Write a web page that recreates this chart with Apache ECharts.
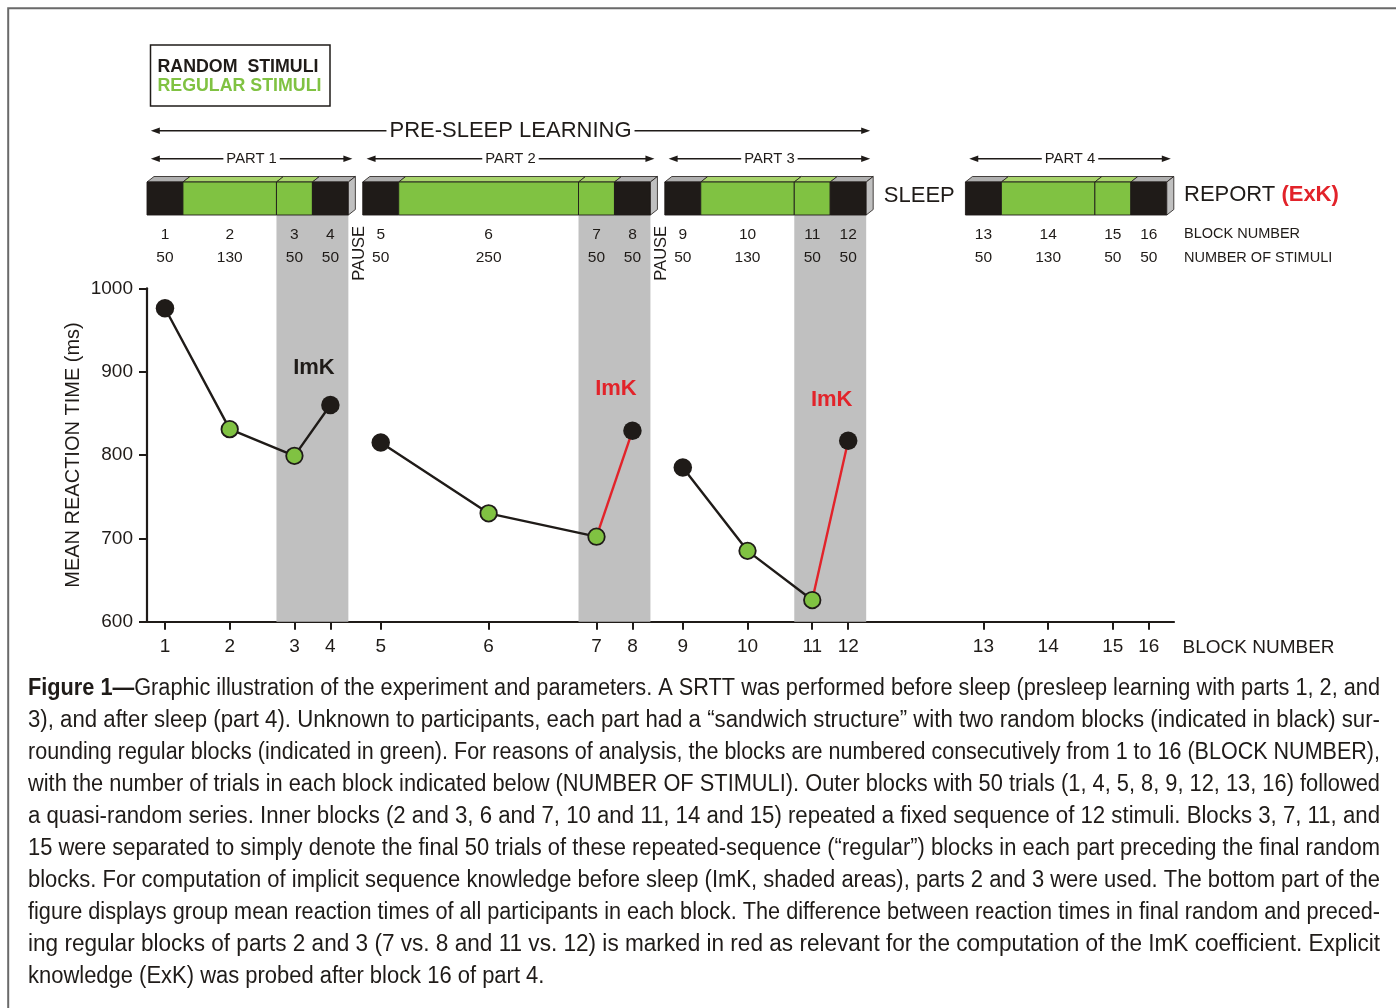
<!DOCTYPE html>
<html>
<head>
<meta charset="utf-8">
<title>Figure 1</title>
<script src="https://cdn.jsdelivr.net/npm/echarts@6/dist/echarts.min.js"></script>
<style>
html,body{margin:0;padding:0;background:#ffffff;}
#chart{width:1396px;height:1008px;}
</style>
</head>
<body>
<div id="chart"></div>
<script>
// ---------------- data ----------------
const blockNumbers = [1,2,3,4,5,6,7,8,9,10,11,12,13,14,15,16];
const stimuliPerBlock = [50,130,50,50, 50,250,50,50, 50,130,50,50, 50,130,50,50];
const blockKind = ['random','regular','regular','random','random','regular','regular','random',
                   'random','regular','regular','random','random','regular','regular','random'];
const partLabels = ['PART 1','PART 2','PART 3','PART 4'];
const partBlockCount = [4,4,4,4];
const gapBeforePart = [0,20,20,138];          // in stimulus units (pause, pause, sleep)
const gapLabels = ['PAUSE','PAUSE','SLEEP'];
const meanRT = [976,831,799,860, 815,730,702,829, 785,685,626,817];   // blocks 1..12 (ms)
const yTickValues = [600,700,800,900,1000];
const imkPairs = [[3,4],[7,8],[11,12]];
const imkUsedForCoefficient = [false,true,true];
const imkLabelRT = [905,879,866];
const legendLabels = ['RANDOM  STIMULI','REGULAR STIMULI'];
const captionBold = 'Figure 1—';
const captionLines = [
  'Graphic illustration of the experiment and parameters. A SRTT was performed before sleep (presleep learning with parts 1, 2, and',
  '3), and after sleep (part 4). Unknown to participants, each part had a “sandwich structure” with two random blocks (indicated in black) sur-',
  'rounding regular blocks (indicated in green). For reasons of analysis, the blocks are numbered consecutively from 1 to 16 (BLOCK NUMBER),',
  'with the number of trials in each block indicated below (NUMBER OF STIMULI). Outer blocks with 50 trials (1, 4, 5, 8, 9, 12, 13, 16) followed',
  'a quasi-random series. Inner blocks (2 and 3, 6 and 7, 10 and 11, 14 and 15) repeated a fixed sequence of 12 stimuli. Blocks 3, 7, 11, and',
  '15 were separated to simply denote the final 50 trials of these repeated-sequence (“regular”) blocks in each part preceding the final random',
  'blocks. For computation of implicit sequence knowledge before sleep (ImK, shaded areas), parts 2 and 3 were used. The bottom part of the',
  'figure displays group mean reaction times of all participants in each block. The difference between reaction times in final random and preced-',
  'ing regular blocks of parts 2 and 3 (7 vs. 8 and 11 vs. 12) is marked in red as relevant for the computation of the ImK coefficient. Explicit',
  'knowledge (ExK) was probed after block 16 of part 4.'
];

// ---------------- styles / layout ----------------
const FONT = "'Liberation Sans', Arial, Helvetica, sans-serif";
const INK = '#1f1b18';
const GREEN = '#80c242';
const GREEN_TOP = '#a8d46c';
const GRAY_TOP = '#b0b0b0';
const SIDE = '#c0c0c0';
const SHADE = '#c0c0c0';
const RED = '#e2232a';

const Y_PRESLEEP = 130.7, Y_PART = 158.8;
const Y_FRONT_TOP = 182, Y_FRONT_BOT = 215, DX = 7, DY = 5.5;
const Y_ROW_NUM = 234.3, Y_ROW_STIM = 257.5;

// ---------------- derived layout in stimulus units ----------------
const blocks = [];
const parts = [];
(function(){
  let cursor = 0, bi = 0;
  partBlockCount.forEach((n, p) => {
    cursor += gapBeforePart[p];
    const pStart = cursor;
    for (let k = 0; k < n; k++, bi++) {
      const s = cursor, e = cursor + stimuliPerBlock[bi];
      blocks.push({no: blockNumbers[bi], start: s, end: e, center: (s + e) / 2,
        kind: blockKind[bi], part: p, first: k === 0, last: k === n - 1, stim: stimuliPerBlock[bi]});
      cursor = e;
    }
    parts.push({start: pStart, end: cursor, label: partLabels[p]});
  });
})();
const X_MAX = parts[parts.length - 1].end + 10;
const blockByNo = {}; blocks.forEach(b => blockByNo[b.no] = b);
const rtByBlock = {}; meanRT.forEach((v, i) => rtByBlock[blockNumbers[i]] = v);
const centerToNo = {}; blocks.forEach(b => centerToNo[b.center] = b.no);
const redPairs = imkPairs.filter((p, i) => imkUsedForCoefficient[i]);
const isRed = (a, b) => redPairs.some(p => p[0] === a && p[1] === b);
const sleepIdx = gapLabels.indexOf('SLEEP');

// line chains
const chains = [];
parts.forEach((p, pi) => {
  const bs = blocks.filter(b => b.part === pi && rtByBlock[b.no] != null);
  let cur = null;
  for (let i = 0; i + 1 < bs.length; i++) {
    const a = bs[i].no, b = bs[i + 1].no, red = isRed(a, b);
    if (!cur || cur.red !== red) { cur = {red, nos: [a]}; chains.push(cur); }
    cur.nos.push(b);
  }
});

// ---------------- text measuring ----------------
const mctx = document.createElement('canvas').getContext('2d');
function textW(t, size, weight) { mctx.font = (weight || 'normal') + ' ' + size + 'px ' + FONT; return mctx.measureText(t).width; }

const CAP_SIZE = 23, CAP_X = 28, CAP_W = 1352, CAP_Y0 = 688.5, CAP_DY = 32;
const capScales = captionLines.map((l, i) => {
  const w = (i === 0 ? textW(captionBold, CAP_SIZE, 'bold') : 0) + textW(l, CAP_SIZE);
  return CAP_W / w;
});
const fullScales = capScales.slice(0, -1);
capScales[capScales.length - 1] = fullScales.reduce((a, b) => a + b, 0) / fullScales.length;

// ---------------- chart ----------------
const chart = echarts.init(document.getElementById('chart'), null, {renderer: 'canvas'});

function arrowEls(xa, xb, y, label, fontSize) {
  const ah = 9, hw = 3.2;
  return [
    {type: 'line', shape: {x1: xa + ah - 1, y1: y, x2: xb - ah + 1, y2: y}, style: {stroke: INK, lineWidth: 1.4}},
    {type: 'polygon', shape: {points: [[xa, y], [xa + ah, y - hw], [xa + ah, y + hw]]}, style: {fill: INK}},
    {type: 'polygon', shape: {points: [[xb, y], [xb - ah, y - hw], [xb - ah, y + hw]]}, style: {fill: INK}},
    {type: 'text', x: (xa + xb) / 2, y: y + 0.5, style: {text: label, fontSize: fontSize, fontFamily: FONT, fill: INK,
      textAlign: 'center', textVerticalAlign: 'middle', backgroundColor: '#ffffff', padding: [1, 3]}}
  ];
}

const arrows = parts.map(p => ({start: p.start, end: p.end, label: p.label, level: 1}));
arrows.push({start: parts[0].start, end: parts[sleepIdx].end, label: 'PRE-SLEEP LEARNING', level: 0});

const series = [];

// shaded ImK areas + labels
series.push({
  type: 'custom', name: 'ImK', z: 1, silent: true,
  data: imkPairs.map((pr, i) => [blockByNo[pr[0]].start, blockByNo[pr[1]].end, i]),
  encode: {x: [0, 1]},
  renderItem: function (params, api) {
    const i = api.value(2);
    const pr = imkPairs[i];
    const x0 = api.coord([blockByNo[pr[0]].start, 600])[0];
    const x1 = api.coord([blockByNo[pr[1]].end, 600])[0];
    const yb = api.coord([0, 600])[1];
    const mid = (blockByNo[pr[0]].center + blockByNo[pr[1]].center) / 2;
    const lp = api.coord([mid, imkLabelRT[i]]);
    return {type: 'group', children: [
      {type: 'rect', shape: {x: x0, y: Y_FRONT_BOT, width: x1 - x0, height: yb - Y_FRONT_BOT}, style: {fill: SHADE}},
      {type: 'text', x: lp[0] + 1.5, y: lp[1], style: {text: 'ImK', fontSize: 22, fontWeight: 'bold', fontFamily: FONT,
        fill: imkUsedForCoefficient[i] ? RED : INK, textAlign: 'center', textVerticalAlign: 'middle'}}
    ]};
  }
});

// block diagram
series.push({
  type: 'custom', name: 'blocks', z: 2, silent: true,
  data: blocks.map((b, i) => [b.start, b.end, i]),
  encode: {x: [0, 1]},
  renderItem: function (params, api) {
    const b = blocks[api.value(2)];
    const x0 = api.coord([b.start, 600])[0];
    const x1 = api.coord([b.end, 600])[0];
    const xc = api.coord([b.center, 600])[0];
    const rnd = b.kind === 'random';
    const ch = [
      {type: 'polygon', shape: {points: [[x0, Y_FRONT_TOP], [x1, Y_FRONT_TOP], [x1 + DX, Y_FRONT_TOP - DY], [x0 + DX, Y_FRONT_TOP - DY]]},
        style: {fill: rnd ? GRAY_TOP : GREEN_TOP, stroke: INK, lineWidth: 0.8}},
      {type: 'rect', shape: {x: x0, y: Y_FRONT_TOP, width: x1 - x0, height: Y_FRONT_BOT - Y_FRONT_TOP},
        style: {fill: rnd ? INK : GREEN, stroke: INK, lineWidth: 0.9}}
    ];
    if (b.last) {
      ch.push({type: 'polygon', shape: {points: [[x1, Y_FRONT_TOP], [x1 + DX, Y_FRONT_TOP - DY], [x1 + DX, Y_FRONT_BOT - DY], [x1, Y_FRONT_BOT]]},
        style: {fill: SIDE, stroke: INK, lineWidth: 0.8}});
    }
    ch.push({type: 'text', x: xc, y: Y_ROW_NUM, style: {text: String(b.no), fontSize: 15.5, fontFamily: FONT, fill: INK, textAlign: 'center', textVerticalAlign: 'middle'}});
    ch.push({type: 'text', x: xc, y: Y_ROW_STIM, style: {text: String(b.stim), fontSize: 15.5, fontFamily: FONT, fill: INK, textAlign: 'center', textVerticalAlign: 'middle'}});
    return {type: 'group', children: ch};
  }
});

// arrows
series.push({
  type: 'custom', name: 'arrows', z: 2, silent: true,
  data: arrows.map((a, i) => [a.start, a.end, i]),
  encode: {x: [0, 1]},
  renderItem: function (params, api) {
    const a = arrows[api.value(2)];
    const xa = api.coord([a.start, 600])[0] + 3.8;
    const xb = api.coord([a.end, 600])[0] + 4;
    return {type: 'group', children: a.level === 0
      ? arrowEls(xa, xb, Y_PRESLEEP, a.label, 22)
      : arrowEls(xa, xb, Y_PART, a.label, 14.8)};
  }
});

// gap labels (PAUSE / SLEEP)
series.push({
  type: 'custom', name: 'gaps', z: 2, silent: true,
  data: gapLabels.map((l, i) => [parts[i].end, parts[i + 1].start, i]),
  encode: {x: [0, 1]},
  renderItem: function (params, api) {
    const i = api.value(2);
    const xa = api.coord([parts[i].end, 600])[0];
    const xb = api.coord([parts[i + 1].start, 600])[0];
    if (gapLabels[i] === 'SLEEP') {
      return {type: 'text', x: (xa + DX + xb) / 2, y: 196, style: {text: gapLabels[i], fontSize: 22, fontFamily: FONT, fill: INK,
        textAlign: 'center', textVerticalAlign: 'middle'}};
    }
    return {type: 'text', x: (xa + xb) / 2 + 4, y: 253.3, rotation: Math.PI / 2,
      style: {text: gapLabels[i], fontSize: 16.5, fontFamily: FONT, fill: INK, textAlign: 'center', textVerticalAlign: 'middle'}};
  }
});

// reaction-time lines
chains.forEach(c => {
  series.push({
    type: 'line', z: 3, silent: true, symbol: 'none',
    data: c.nos.map(n => [blockByNo[n].center, rtByBlock[n]]),
    lineStyle: {color: c.red ? RED : INK, width: 2.4}
  });
});

// markers
series.push({
  type: 'scatter', name: 'random', z: 4, silent: true, symbolSize: 18.5,
  data: blocks.filter(b => b.kind === 'random' && rtByBlock[b.no] != null).map(b => [b.center, rtByBlock[b.no]]),
  itemStyle: {color: INK, opacity: 1}
});
series.push({
  type: 'scatter', name: 'regular', z: 4, silent: true, symbolSize: 16.5,
  data: blocks.filter(b => b.kind === 'regular' && rtByBlock[b.no] != null).map(b => [b.center, rtByBlock[b.no]]),
  itemStyle: {color: GREEN, borderColor: INK, borderWidth: 1.8, opacity: 1}
});

// graphic: frame, legend box, right labels, caption
const graphics = [
  {type: 'rect', shape: {x: 8.2, y: 8.3, width: 1420, height: 1030}, style: {fill: 'none', stroke: '#6a6a6a', lineWidth: 2}, silent: true},
  {type: 'rect', shape: {x: 150.5, y: 45, width: 179.5, height: 61}, style: {fill: '#ffffff', stroke: INK, lineWidth: 1.5}},
  {type: 'text', x: 157.5, y: 66.7, style: {text: legendLabels[0], fontSize: 17.8, fontWeight: 'bold', fontFamily: FONT, fill: INK, textVerticalAlign: 'middle'}},
  {type: 'text', x: 157.5, y: 86.2, style: {text: legendLabels[1], fontSize: 17.8, fontWeight: 'bold', fontFamily: FONT, fill: GREEN, textVerticalAlign: 'middle'}},
  {type: 'text', x: 1184, y: 194.5, style: {text: '{a|REPORT }{b|(ExK)}', fontSize: 22, fontFamily: FONT, fill: INK, textVerticalAlign: 'middle',
    rich: {a: {fontSize: 22, fontFamily: FONT, fill: INK}, b: {fontSize: 22, fontFamily: FONT, fontWeight: 'bold', fill: RED}}}},
  {type: 'text', x: 1184, y: Y_ROW_NUM, style: {text: 'BLOCK NUMBER', fontSize: 14.5, fontFamily: FONT, fill: INK, textVerticalAlign: 'middle'}},
  {type: 'text', x: 1184, y: Y_ROW_STIM, style: {text: 'NUMBER OF STIMULI', fontSize: 14.5, fontFamily: FONT, fill: INK, textVerticalAlign: 'middle'}},
  {type: 'text', x: 1182.5, y: 647.5, style: {text: 'BLOCK NUMBER', fontSize: 19, fontFamily: FONT, fill: INK, textVerticalAlign: 'middle'}}
];
captionLines.forEach((l, i) => {
  const st = {fontSize: CAP_SIZE, fontFamily: FONT, fill: INK, textVerticalAlign: 'middle'};
  if (i === 0) {
    st.text = '{b|' + captionBold + '}{n|' + l + '}';
    st.rich = {b: {fontSize: CAP_SIZE, fontFamily: FONT, fontWeight: 'bold', fill: INK},
               n: {fontSize: CAP_SIZE, fontFamily: FONT, fill: INK}};
  } else {
    st.text = l;
  }
  graphics.push({type: 'text', x: CAP_X, y: CAP_Y0 + CAP_DY * i, scaleX: capScales[i], style: st});
});

const option = {
  animation: false,
  backgroundColor: '#ffffff',
  grid: {left: 147, right: 222, top: 288.3, bottom: 386.3, outerBoundsMode: 'none'},
  xAxis: {
    type: 'value', min: 0, max: X_MAX,
    axisLine: {show: true, onZero: false, lineStyle: {color: INK, width: 2.2}},
    axisTick: {show: true, length: 8, customValues: blocks.map(b => b.center), lineStyle: {color: INK, width: 2}},
    axisLabel: {show: true, customValues: blocks.map(b => b.center), margin: 16, fontSize: 19, fontFamily: FONT, color: INK,
      formatter: v => String(centerToNo[v])},
    splitLine: {show: false}
  },
  yAxis: {
    type: 'value', min: 600, max: 1000, interval: 100,
    name: 'MEAN REACTION TIME (ms)', nameLocation: 'middle', nameGap: 64, nameMoveOverlap: false,
    nameTextStyle: {fontSize: 20, fontFamily: FONT, color: INK},
    axisLine: {show: true, lineStyle: {color: INK, width: 2.2}},
    axisTick: {show: true, length: 8, lineStyle: {color: INK, width: 2}},
    axisLabel: {margin: 14, fontSize: 19, fontFamily: FONT, color: INK,
      formatter: v => yTickValues.indexOf(v) >= 0 ? String(v) : ''},
    splitLine: {show: false}
  },
  graphic: {elements: graphics},
  series: series
};
chart.setOption(option);
</script>
</body>
</html>
